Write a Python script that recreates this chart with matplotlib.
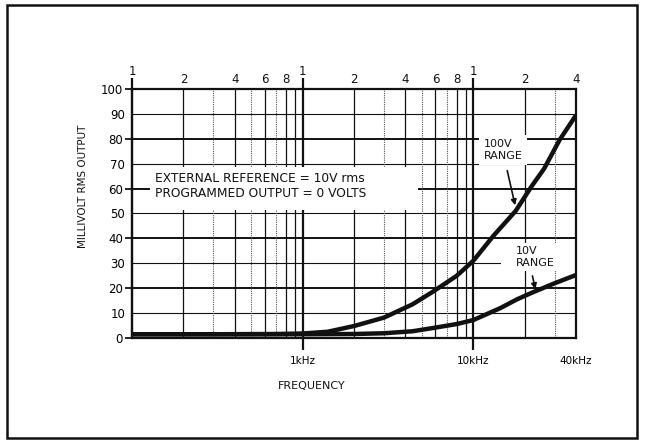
import matplotlib.pyplot as plt
from matplotlib.patches import Rectangle

# curves (Hz, mV rms)
freq_100v = [100, 300, 700, 1000, 1400, 2000, 3000, 4400, 5800, 8000, 10000, 13100, 17700, 22000, 26000, 32000, 40000]
mv_100v = [1.5, 1.5, 1.6, 1.8, 2.5, 4.8, 8.2, 13.5, 18.6, 25, 31, 41, 51, 61, 68, 79.5, 89.5]

freq_10v = [100, 1000, 2000, 3000, 4400, 5800, 8000, 10000, 14400, 18000, 22600, 30000, 40000]
mv_10v = [1.5, 1.5, 1.6, 1.9, 2.7, 4.0, 5.6, 7.2, 12, 15.5, 18.5, 22, 25.3]

y_ticks = [0, 10, 20, 30, 40, 50, 60, 70, 80, 90, 100]
decades = [100, 1000, 10000]
top_labels = ['1', '2', '4', '6', '8']
top_mult = [1, 2, 4, 6, 8]
bottom_ticks = [1000, 10000, 40000]
bottom_labels = ['1kHz', '10kHz', '40kHz']

fig = plt.figure(figsize=(6.45, 4.41), dpi=100)
ax = fig.add_axes([0.2047, 0.2336, 0.6884, 0.5646])
ink = '#111111'

ax.set_xscale('log')
ax.set_xlim(100, 40000)
ax.set_ylim(0, 100)

# grid: horizontal lines, heavier on the 20s
for v in y_ticks:
    lw = 1.4 if v % 20 == 0 else 0.8
    ax.axhline(v, color=ink, lw=lw, zorder=1)

# grid: vertical lines inside each decade
for d in decades:
    for m in range(2, 10):
        f = d * m
        if f > 40000:
            break
        if m in (3, 5, 7):
            ax.axvline(f, color='#555555', lw=0.8, ls=(0, (1, 1)), zorder=1)
        else:
            ax.axvline(f, color=ink, lw=0.9, zorder=1)

# decade lines run past the frame
ax.vlines(decades[1:], -5, 104.5, color=ink, lw=1.6, clip_on=False, zorder=2)
ax.vlines(decades[0], 0, 104.5, color=ink, lw=1.6, clip_on=False, zorder=2)

for s in ax.spines.values():
    s.set_linewidth(1.6)
    s.set_color(ink)

ax.plot(freq_100v, mv_100v, color=ink, lw=3.2, solid_capstyle='butt', zorder=5)
ax.plot(freq_10v, mv_10v, color=ink, lw=3.2, solid_capstyle='butt', zorder=5)

# y axis
ax.set_yticks([0, 20, 40, 60, 80, 100])
ax.set_yticks([10, 30, 50, 70, 90], minor=True)
ax.yaxis.set_minor_formatter(plt.FuncFormatter(lambda v, p: f'{v:.0f}'))
ax.tick_params(axis='y', which='major', length=5, width=1.2, pad=1.5, labelsize=8.5)
ax.tick_params(axis='y', which='minor', length=0, pad=5, labelsize=8.5)

# bottom axis
ax.set_xticks(bottom_ticks, bottom_labels)
ax.xaxis.set_minor_locator(plt.NullLocator())
ax.tick_params(axis='x', which='major', length=0, pad=13, labelsize=7.5)

# top scale numbers
for d in decades:
    for m, lab in zip(top_mult, top_labels):
        f = d * m
        if f > 40000:
            continue
        yy = 1.07 if m == 1 else 1.04
        ax.text(f, yy, lab, transform=ax.get_xaxis_transform(), ha='center', va='center',
                fontsize=8.5, color=ink)

ax.set_ylabel('MILLIVOLT RMS OUTPUT', fontsize=7.5, color=ink)
ax.yaxis.set_label_coords(-0.10, 0.61)
ax.text(0.405, -0.193, 'FREQUENCY', transform=ax.transAxes, ha='center', va='center',
        fontsize=8, color=ink)

# blank band behind the note, as on the original sheet
ax.add_patch(Rectangle((0.04, 0.515), 0.605, 0.17, transform=ax.transAxes,
                       facecolor='white', edgecolor='none', zorder=2))
ax.text(137, 61, 'EXTERNAL REFERENCE = 10V rms\nPROGRAMMED OUTPUT = 0 VOLTS',
        ha='left', va='center', fontsize=8.8, color=ink, linespacing=1.2, zorder=3)

ax.text(11500, 75.5, '100V\nRANGE', ha='left', va='center', fontsize=8, color=ink,
        linespacing=1.2, zorder=3, bbox=dict(facecolor='white', edgecolor='none', pad=3))
ax.annotate('', xy=(17730, 52.2), xytext=(15670, 68.3),
            arrowprops=dict(arrowstyle='-|>', color=ink, lw=1.2, mutation_scale=8), zorder=6)

# gap in the 30 line next to the 10V label
ax.add_patch(Rectangle((0.83, 0.285), 0.168, 0.03, transform=ax.transAxes,
                       facecolor='white', edgecolor='none', zorder=2))
ax.text(17730, 32.5, '10V\nRANGE', ha='left', va='center', fontsize=8, color=ink,
        linespacing=1.2, zorder=3, bbox=dict(facecolor='white', edgecolor='none', pad=2))
ax.annotate('', xy=(23280, 18.5), xytext=(22030, 26),
            arrowprops=dict(arrowstyle='-|>', color=ink, lw=1.2, mutation_scale=8), zorder=6)

# outer frame of the figure
fig.patches.append(Rectangle((7 / 645, 3 / 441), 630 / 645, 433 / 441, transform=fig.transFigure,
                             fill=False, edgecolor=ink, lw=1.8))

fig.savefig('out.png', dpi=100)
